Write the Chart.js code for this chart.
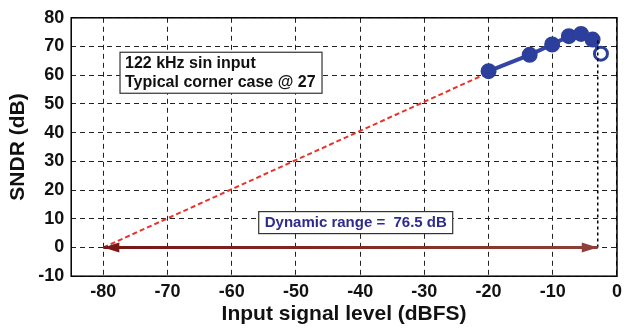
<!DOCTYPE html>
<html>
<head>
<meta charset="utf-8">
<script src="https://cdn.jsdelivr.net/npm/chart.js@4.4.1/dist/chart.umd.min.js"></script>
<style>
  html, body { margin: 0; padding: 0; background: #fff; }
</style>
</head>
<body>
<canvas id="c" width="627" height="330"></canvas>
<script>
// measured SNDR vs input level
var inputLevel = [-20, -13.6, -10.1, -7.5, -5.6, -3.8, -2.5];
var sndr = [61.4, 67.1, 70.7, 73.6, 74.4, 72.4, 67.5];

// extrapolation line and dynamic range marker
var fitX = [-80, -7.5];
var fitY = [0, 73.6];
var drStart = -80;
var drEnd = -3;
var drValue = 76.5;
var peakLineY = 72.4;

var xTicks = [-80, -70, -60, -50, -40, -30, -20, -10, 0];
var yTicks = [-10, 0, 10, 20, 30, 40, 50, 60, 70, 80];

var noteLines = ['122 kHz sin input', 'Typical corner case @ 27'];
var drLabel = 'Dynamic range =  ' + drValue + ' dB';

function pts(xs, ys) {
    var out = [];
    for (var i = 0; i < xs.length; i++) out.push({ x: xs[i], y: ys[i] });
    return out;
}

var pointFill = sndr.map(function (v, i) { return i === sndr.length - 1 ? '#ffffff' : '#2c3f9c'; });

var boxPlugin = {
    id: 'boxes',
    afterDatasetsDraw: function (chart) {
        var ctx = chart.ctx, a = chart.chartArea;
        var xs = chart.scales.x, ys = chart.scales.y;
        ctx.save();
        // frame
        ctx.strokeStyle = '#000';
        ctx.lineWidth = 1.5;
        ctx.strokeRect(a.left, a.top, a.right - a.left, a.bottom - a.top);

        // arrow heads of the dynamic range marker
        var y0 = ys.getPixelForValue(0);
        var xl = xs.getPixelForValue(drStart), xr = xs.getPixelForValue(drEnd);
        ctx.fillStyle = '#7a1818';
        ctx.beginPath();
        ctx.moveTo(xl, y0); ctx.lineTo(xl + 16, y0 - 5); ctx.lineTo(xl + 16, y0 + 5); ctx.closePath(); ctx.fill();
        ctx.fillStyle = '#8e4038';
        ctx.beginPath();
        ctx.moveTo(xr, y0); ctx.lineTo(xr - 16, y0 - 5); ctx.lineTo(xr - 16, y0 + 5); ctx.closePath(); ctx.fill();

        // note box
        ctx.font = 'bold 16px "Liberation Sans", Arial, sans-serif';
        ctx.textBaseline = 'middle';
        ctx.textAlign = 'left';
        var bx = xs.getPixelForValue(-77.4), by = ys.getPixelForValue(68);
        ctx.fillStyle = '#fff';
        ctx.fillRect(bx, by, 202, 41);
        ctx.strokeStyle = '#333';
        ctx.lineWidth = 1.2;
        ctx.strokeRect(bx, by, 202, 41);
        ctx.fillStyle = '#111';
        ctx.fillText(noteLines[0], bx + 5, by + 11);
        ctx.fillText(noteLines[1], bx + 5, by + 30);

        // dynamic range label
        ctx.font = 'bold 15px "Liberation Sans", Arial, sans-serif';
        var dx = xs.getPixelForValue(-55.8), dy = ys.getPixelForValue(12.5);
        ctx.fillStyle = '#fff';
        ctx.fillRect(dx, dy, 194, 22);
        ctx.strokeStyle = '#333';
        ctx.strokeRect(dx, dy, 194, 22);
        ctx.fillStyle = '#2f2b8c';
        ctx.fillText(drLabel, dx + 6, dy + 11.5);
        ctx.restore();
    }
};

var ctx = document.getElementById('c').getContext('2d');
var fam = '"Liberation Sans", Arial, sans-serif';

var drGrad = ctx.createLinearGradient(100, 0, 600, 0);
drGrad.addColorStop(0, '#761616');
drGrad.addColorStop(1, '#8e4038');

new Chart(ctx, {
    type: 'scatter',
    data: {
        datasets: [
            {
                data: pts([drStart, drEnd], [0, 0]),
                showLine: true, borderColor: drGrad, borderWidth: 3, pointRadius: 0
            },
            {
                data: pts([drEnd, drEnd], [0, peakLineY]),
                showLine: true, borderColor: '#000', borderWidth: 1.5, borderDash: [3, 3], pointRadius: 0
            },
            {
                data: pts(inputLevel, sndr),
                showLine: true, borderColor: '#3346a6', borderWidth: 4,
                pointRadius: 6.5, pointBorderWidth: 3,
                pointBorderColor: '#2c3f9c', pointBackgroundColor: pointFill
            },
            {
                data: pts(fitX, fitY),
                showLine: true, borderColor: '#e8332b', borderWidth: 2, borderDash: [5, 3], pointRadius: 0
            }
        ]
    },
    options: {
        responsive: false,
        animation: false,
        layout: { padding: { top: 14, right: 10, left: 6, bottom: 3 } },
        plugins: { legend: { display: false }, tooltip: { enabled: false } },
        scales: {
            x: {
                type: 'linear', min: -85, max: 0,
                afterBuildTicks: function (s) { s.ticks = xTicks.map(function (v) { return { value: v }; }); },
                grid: { color: '#222', lineWidth: 1, drawTicks: false },
                border: { display: false, dash: [5, 4] },
                ticks: { color: '#111', font: { family: fam, weight: 'bold', size: 18 }, padding: 5, maxRotation: 0 },
                title: { display: true, text: 'Input signal level (dBFS)', color: '#111', font: { family: fam, weight: 'bold', size: 21 }, padding: { top: -6, bottom: 0 } }
            },
            y: {
                type: 'linear', min: -10, max: 80,
                afterBuildTicks: function (s) { s.ticks = yTicks.map(function (v) { return { value: v }; }); },
                grid: { color: '#222', lineWidth: 1, drawTicks: false },
                border: { display: false, dash: [5, 4] },
                ticks: { color: '#111', font: { family: fam, weight: 'bold', size: 18 }, padding: 7 },
                title: { display: true, text: 'SNDR (dB)', color: '#111', font: { family: fam, weight: 'bold', size: 21 }, padding: { top: 0, bottom: 0 } }
            }
        }
    },
    plugins: [boxPlugin]
});
</script>
</body>
</html>
